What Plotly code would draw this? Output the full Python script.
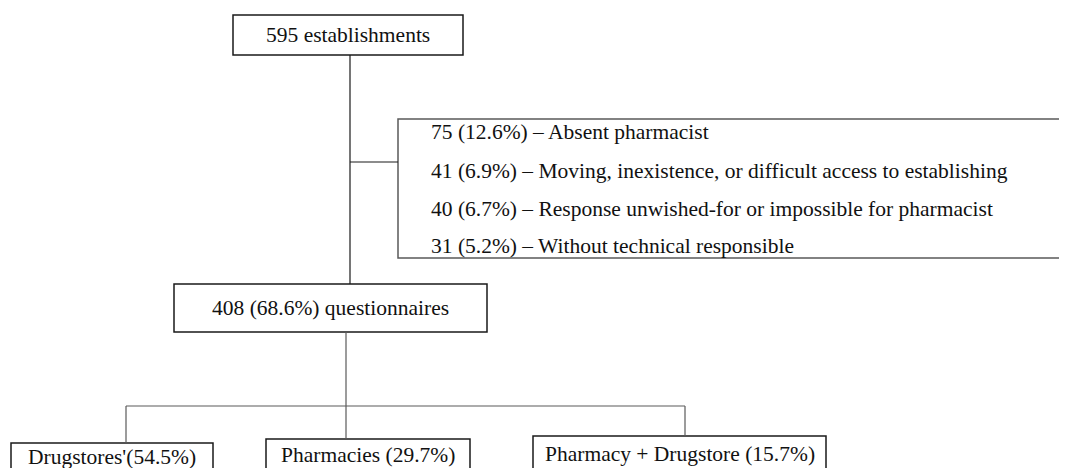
import plotly.graph_objects as go

# ---- data ----
total_establishments = 595
exclusion_counts = [75, 41, 40, 31]
exclusion_pcts = ["12.6%", "6.9%", "6.7%", "5.2%"]
exclusion_reasons = [
    "Absent pharmacist",
    "Moving, inexistence, or difficult access to establishing",
    "Response unwished-for or impossible for pharmacist",
    "Without technical responsible",
]
questionnaires_n = 408
questionnaires_pct = "68.6%"
type_labels = ["Drugstores'", "Pharmacies ", "Pharmacy + Drugstore "]
type_pcts = ["54.5%", "29.7%", "15.7%"]

# ---- layout (pixel geometry, reference-image pixels) ----
W, H = 1067, 468
OFF = 8  # page body margin
FONT = "Liberation Serif, Times New Roman, serif"
FS = 21.5
DARK = "#1a1a1a"
GREY = "#5a5a5a"

top_box = (233, 15, 463, 55)
excl_box = (398, 119, 1075, 258)
q_box = (174, 284, 487, 332)
type_boxes = [(11, 443, 213, 490), (266, 439, 470, 490), (533, 436, 826, 490)]
main_x = 350
excl_conn_y = 162
branch_y = 406
branch_xs = [126, 346, 685]
excl_text_x = 429
excl_text_ys = [132, 171, 209, 246]
type_text_ys = [456.5, 455, 454]

fig = go.Figure()
shapes = []

def box(b, color=DARK, width=1.5):
    shapes.append(dict(type="rect", xref="x", yref="y", x0=b[0], y0=b[1], x1=b[2], y1=b[3],
                       line=dict(color=color, width=width), fillcolor="rgba(0,0,0,0)"))

def line(x0, y0, x1, y1, color=DARK, width=1.2):
    shapes.append(dict(type="line", xref="x", yref="y", x0=x0, y0=y0, x1=x1, y1=y1,
                       line=dict(color=color, width=width)))

box(top_box)
box(excl_box, color=GREY, width=1.5)
box(q_box)
for b in type_boxes:
    box(b)

# connectors
line(main_x, top_box[3], main_x, q_box[1])
line(main_x, excl_conn_y, excl_box[0], excl_conn_y)
line(branch_xs[1], q_box[3], branch_xs[1], branch_y, color=GREY)
line(branch_xs[0], branch_y, branch_xs[2], branch_y, color=GREY)
for bx, b in zip(branch_xs, type_boxes):
    line(bx, branch_y, bx, b[1], color=GREY)

annotations = []
def txt(x, y, s, anchor="center", size=FS):
    annotations.append(dict(x=x, y=y, xref="x", yref="y", text=s, showarrow=False,
                            xanchor=anchor, yanchor="middle",
                            font=dict(family=FONT, size=size, color="#111111")))

txt((top_box[0] + top_box[2]) / 2, (top_box[1] + top_box[3]) / 2,
    f"{total_establishments} establishments")
for c, p, r, y in zip(exclusion_counts, exclusion_pcts, exclusion_reasons, excl_text_ys):
    txt(excl_text_x, y, f"{c} ({p}) – {r}", anchor="left")
txt((q_box[0] + q_box[2]) / 2, (q_box[1] + q_box[3]) / 2,
    f"{questionnaires_n} ({questionnaires_pct}) questionnaires")
for lab, p, b, y in zip(type_labels, type_pcts, type_boxes, type_text_ys):
    txt((b[0] + b[2]) / 2, y, f"{lab}({p})")

fig.update_layout(
    width=W, height=H,
    margin=dict(l=0, r=0, t=0, b=0),
    paper_bgcolor="white", plot_bgcolor="white",
    xaxis=dict(range=[OFF, W + OFF], visible=False, fixedrange=True),
    yaxis=dict(range=[H + OFF, OFF], visible=False, fixedrange=True),
    shapes=shapes, annotations=annotations, showlegend=False,
)
fig.write_html("out.html")
